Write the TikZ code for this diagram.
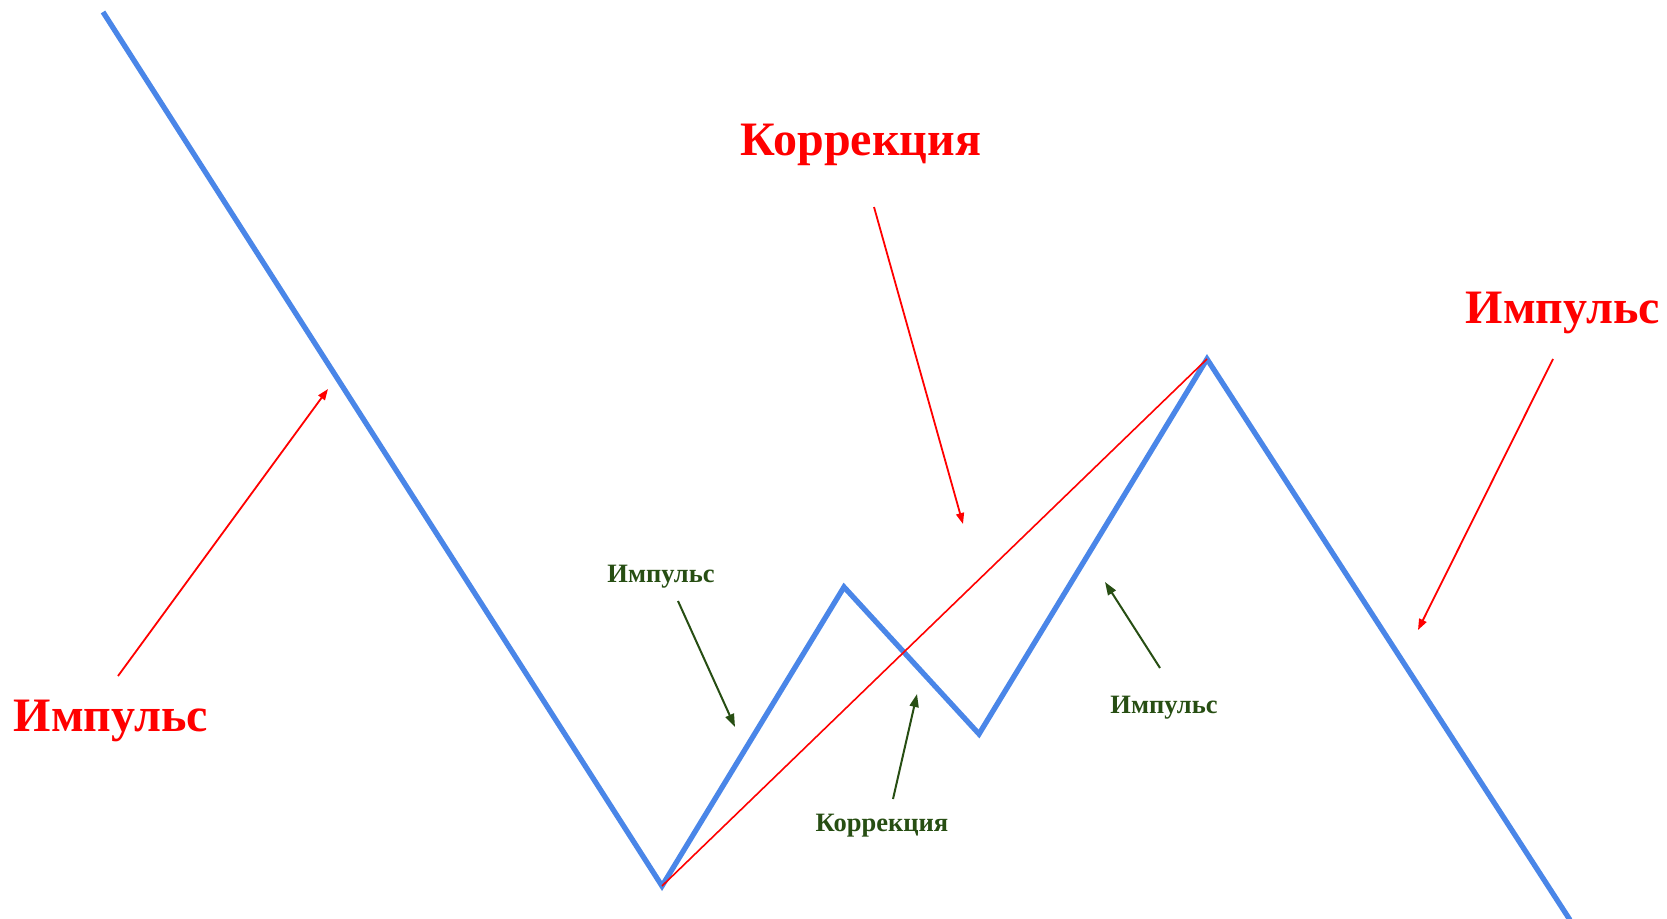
\documentclass[tikz,border=0pt]{standalone}
\usepackage{fontspec}
\setmainfont{Liberation Serif}
\usetikzlibrary{arrows.meta}
\definecolor{wave}{HTML}{4A86E8}
\definecolor{dgreen}{HTML}{274E13}
\definecolor{pred}{HTML}{FF0000}
\tikzset{
  wavepath/.style={draw=wave, line width=5.3pt, line join=miter},
  trendline/.style={draw=pred, line width=1.6pt},
  redarrow/.style={draw=pred, line width=1.8pt, -{Triangle[length=11pt,width=8pt]}},
  greenarrow/.style={draw=dgreen, line width=2pt, -{Triangle[length=13pt,width=9pt]}},
  biglabel/.style={text=pred, font=\bfseries\fontsize{48}{55}\selectfont, anchor=base, inner sep=0pt},
  smalllabel/.style={text=dgreen, font=\bfseries\fontsize{26.5}{30}\selectfont, anchor=base, inner sep=0pt}
}
\begin{document}
\begin{tikzpicture}[x=1pt,y=-1pt]
\useasboundingbox (0,0) rectangle (1667,918);
\fill[white] (0,0) rectangle (1667,918);
% wave points
\coordinate (p0) at (103,12);
\coordinate (p1) at (662,886);
\coordinate (p2) at (844,587);
\coordinate (p3) at (979,734);
\coordinate (p4) at (1207,359);
\coordinate (p5) at (1570,920);
\draw[wavepath] (p0) -- (p1) -- (p2) -- (p3) -- (p4) -- (p5);
\draw[trendline] (p1) -- (p4);
% labels
\node[biglabel] (kor) at (861,155) {Коррекция};
\node[biglabel] (impR) at (1563,323) {Импульс};
\node[biglabel] (impL) at (111,731) {Импульс};
\node[smalllabel] (gimp1) at (661,582) {Импульс};
\node[smalllabel] (gkor) at (882,831) {Коррекция};
\node[smalllabel] (gimp2) at (1164,713) {Импульс};
% arrow ends
\coordinate (aL1) at (118,676);
\coordinate (aL2) at (328,389);
\coordinate (aT1) at (874,207);
\coordinate (aT2) at (963,524);
\coordinate (aR1) at (1553,359);
\coordinate (aR2) at (1418,630);
\coordinate (g11) at (678,601);
\coordinate (g12) at (735,727);
\coordinate (g21) at (893,799);
\coordinate (g22) at (917,694);
\coordinate (g31) at (1160,668);
\coordinate (g32) at (1105,582);
\draw[redarrow] (aL1) -- (aL2);
\draw[redarrow] (aT1) -- (aT2);
\draw[redarrow] (aR1) -- (aR2);
\draw[greenarrow] (g11) -- (g12);
\draw[greenarrow] (g21) -- (g22);
\draw[greenarrow] (g31) -- (g32);
\end{tikzpicture}
\end{document}
